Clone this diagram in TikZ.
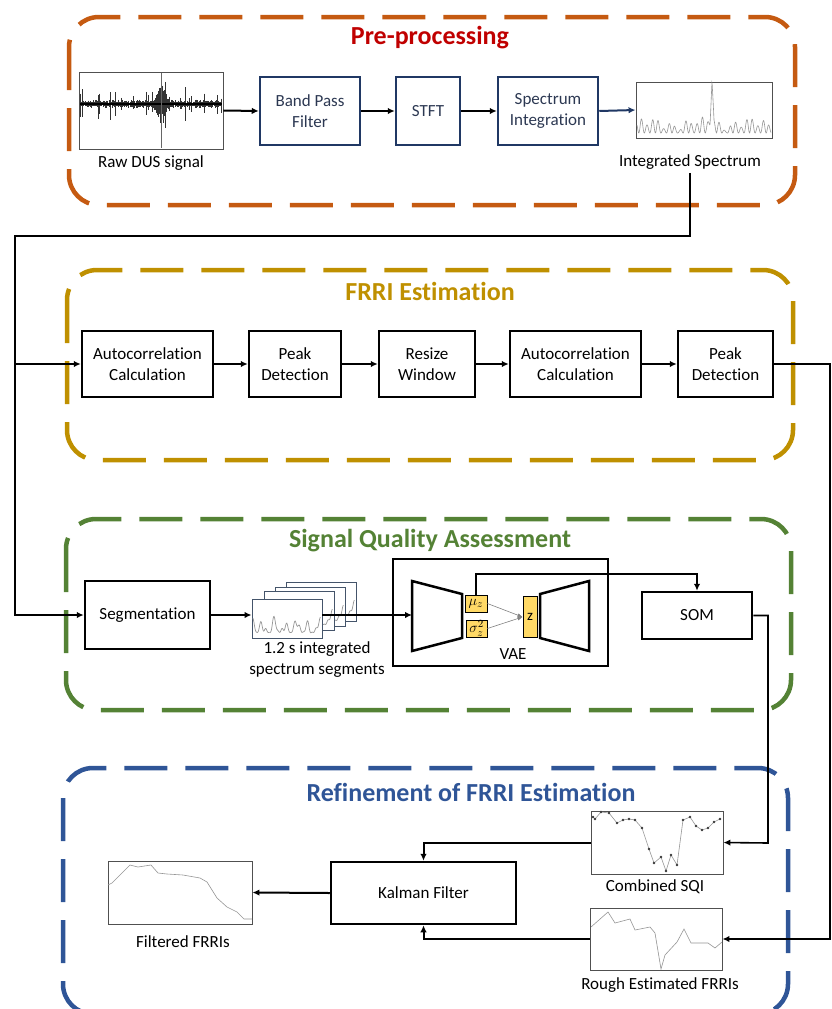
\documentclass[tikz,border=0pt]{standalone}
\usepackage{fontspec}
\setmainfont{Carlito}[Ligatures=NoCommon]
\usetikzlibrary{arrows.meta}
\definecolor{preorange}{RGB}{197,90,17}
\definecolor{prered}{RGB}{192,0,0}
\definecolor{frrigold}{RGB}{191,144,0}
\definecolor{sqagreen}{RGB}{84,130,53}
\definecolor{refblue}{RGB}{47,85,151}
\definecolor{boxnavy}{RGB}{32,56,100}
\definecolor{txtnavy}{RGB}{44,56,82}
\definecolor{latfill}{RGB}{255,217,102}
\definecolor{plotgray}{RGB}{150,150,150}
\definecolor{framegray}{RGB}{80,80,80}
\definecolor{segslate}{RGB}{68,84,106}
\tikzset{
  txt/.style={font=\fontsize{17}{21}\selectfont, align=center},
  blk/.style={txt, draw, line width=2.5pt, inner sep=0pt},
  nblk/.style={blk, draw=boxnavy, text=txtnavy},
  frame/.style={draw=framegray, line width=0.9pt, inner sep=0pt, fill=white},
  sframe/.style={draw=segslate, line width=0.9pt, inner sep=0pt, fill=white},
  lat/.style={draw, line width=0.8pt, fill=latfill, inner sep=0pt, font=\fontsize{15}{15}\selectfont},
  arr/.style={line width=2pt, -{Latex[length=7pt,width=6.5pt]}},
  group/.style={line width=4.5pt, dash pattern=on 43pt off 18pt, rounded corners=30pt},
  ttl/.style={font=\fontsize{26}{30}\selectfont\bfseries},
}
\begin{document}
\begin{tikzpicture}[x=1pt,y=-1pt]
  \useasboundingbox (0,0) rectangle (832,1009);
  \draw [group, preorange] (69,17) rectangle (795,205);
  \draw [group, frrigold] (67,270) rectangle (793,460);
  \draw [group, sqagreen] (66,519) rectangle (791,710);
  \draw [group, refblue] (63,768) rectangle (788,1014);
  \node [ttl, prered] (tpre) at (430,38) {Pre-processing};
  \node [ttl, frrigold] (tfrri) at (430,291) {FRRI Estimation};
  \node [ttl, sqagreen] (tsqa) at (430,541) {Signal Quality Assessment};
  \node [ttl, refblue] (tref) at (471,792) {Refinement of FRRI Estimation};

  \node [frame, minimum width=144pt, minimum height=77pt] (raw) at (151,110.5) {};
  \pgfmathsetseed{11}
  \foreach \x in {80,80.6,...,222} {
    \pgfmathsetmacro\amp{(1.5+2.5*rnd)*((rnd>0.88)?4:1)+16*max(0,1-abs(\x-161)/8)}
    \pgfmathsetmacro\up{min(28,\amp*(0.6+0.6*rnd))}
    \pgfmathsetmacro\dn{min(40,\amp*(0.6+0.6*rnd))}
    \draw [line width=0.45pt, black!80] (\x,{104-\up}) -- (\x,{104+\dn});
  }
  \draw [line width=1.4pt] (80,104) -- (222,104);
  \draw [line width=0.7pt, black!60] (161,73) -- (161,148);
  \node [txt] (lraw) at (151,163) {Raw DUS signal};
  \node [nblk, minimum width=100pt, minimum height=68pt] (bpf) at (310,111) {Band Pass\\Filter};
  \node [nblk, minimum width=64pt, minimum height=68pt] (stft) at (428,111) {STFT};
  \node [nblk, minimum width=100pt, minimum height=68pt] (spi) at (548,111) {Spectrum\\Integration};
  \node [frame, minimum width=136pt, minimum height=56pt] (spec) at (704,110) {};
  \draw [plotgray, line width=0.6pt] plot [domain=1:135, samples=500]
    ({\x+636}, {133-(9+4*sin(23*\x)+3*sin(7*\x))*(0.5+0.5*cos(65*\x))-40*max(0,1-abs(\x-76)/2)-10*max(0,1-abs(\x-75.5)/5)});
  \node [txt] (lspec) at (690,162) {Integrated Spectrum};
  \draw [arr] (raw.east) to (bpf.west);
  \draw [arr] (bpf) to (stft);
  \draw [arr] (stft) to (spi);
  \draw [arr, boxnavy] (spi.east) to (spec.west);

  \node [blk, minimum width=131pt, minimum height=66pt] (ac1) at (147.5,364) {Autocorrelation\\Calculation};
  \node [blk, minimum width=92pt, minimum height=66pt] (pk1) at (295,364) {Peak\\Detection};
  \node [blk, minimum width=96pt, minimum height=66pt] (rw) at (427,364) {Resize\\Window};
  \node [blk, minimum width=131pt, minimum height=66pt] (ac2) at (575.5,364) {Autocorrelation\\Calculation};
  \node [blk, minimum width=95pt, minimum height=66pt] (pk2) at (725.5,364) {Peak\\Detection};
  \draw [arr] (ac1) to (pk1);
  \draw [arr] (pk1) to (rw);
  \draw [arr] (rw) to (ac2);
  \draw [arr] (ac2) to (pk2);

  \node [blk, minimum width=125pt, minimum height=68pt] (seg) at (147.5,615) {Segmentation};
  \foreach \n/\cx/\cy in {4/321/601.5, 3/310/606.5, 2/299/610.5, 1/287/618.5} {
    \node [sframe, minimum width=70pt, minimum height=39pt] (seg\n) at (\cx,\cy) {};
    \draw [plotgray, line width=0.7pt, shift={(seg\n.south west)}] plot [domain=1:69, samples=140]
      (\x, {-6-(9+6*sin(53*\x)+4*sin(17*\x))*(0.5+0.5*cos(32*\x))});
  }
  \node [txt] (lsegs) at (317,660) {1.2 s integrated\\spectrum segments};
  \node [draw, line width=2.5pt, minimum width=215pt, minimum height=107pt] (vae) at (500.5,612.5) {};
  \node [txt] (lvae) at (513,654) {VAE};
  \draw [line width=2.5pt] (412,581) -- (462,594) -- (462,638) -- (412,651) -- cycle;
  \draw [line width=2.5pt] (540,594) -- (589,581) -- (589,651) -- (540,638) -- cycle;
  \node [lat, minimum width=22pt, minimum height=17pt] (mu) at (476,603.5) {$\mu_z$};
  \node [lat, minimum width=21pt, minimum height=17pt] (sig) at (476.5,628.5) {$\sigma_z^2$};
  \node [lat, minimum width=14pt, minimum height=41pt] (z) at (530,617) {$\mathrm{z}$};
  \draw [gray, line width=0.6pt, -{Latex[length=5pt,width=4pt]}] (mu.east) to (z.west);
  \draw [gray, line width=0.6pt, -{Latex[length=5pt,width=4pt]}] (sig.east) to (z.west);
  \node [blk, minimum width=110pt, minimum height=47pt] (som) at (697,615.5) {SOM};
  \coordinate (enc) at (412,615);
  \draw [arr] (seg.east) -- (seg.east -| seg1.west);
  \draw [arr] (seg.east -| seg1.east) -- (enc);

  \node [frame, minimum width=132pt, minimum height=63pt] (sqi) at (657,842.5) {};
  \draw [plotgray, line width=0.6pt, mark=*, mark size=0.9pt, mark options={fill=darkgray, draw=darkgray}] plot coordinates {
    (593,817) (595,819) (601,812) (609,813) (617,823) (623,820) (629,819) (635,820) (642,828)
    (649,849) (654,863) (661,857) (666,871) (671,855) (677,865) (683,820) (690,817) (696,826)
    (702,830) (708,828) (714,822) (720,819)};
  \node [txt] (lsqi) at (655,887) {Combined SQI};
  \node [frame, minimum width=132pt, minimum height=62pt] (rough) at (656,939) {};
  \draw [plotgray, line width=0.6pt] plot coordinates {
    (591,927) (608,912) (615,923) (630,919) (635,930) (650,927) (655,933) (661,969) (665,955)
    (677,942) (684,929) (691,943) (708,943) (715,948) (722,942)};
  \node [txt] (lrough) at (660,985) {Rough Estimated FRRIs};
  \node [blk, minimum width=185pt, minimum height=62pt] (kal) at (423.5,893) {Kalman Filter};
  \node [frame, minimum width=144pt, minimum height=63pt] (filt) at (180,892.5) {};
  \draw [plotgray, line width=0.6pt] plot coordinates {
    (108,885) (112,883) (130,865) (138,867) (151,865) (158,873) (167,874) (183,875) (200,878)
    (207,882) (217,898) (227,907) (237,912) (244,919) (252,919)};
  \node [txt] (lfilt) at (183,942) {Filtered FRRIs};

  \coordinate (c1) at (15,236);
  \coordinate (c2) at (830,364);
  \coordinate (c3) at (697,574);
  \coordinate (c4) at (768,843);
  \draw [arr] (lspec.south) |- (c1) |- (seg.west);
  \draw [arr] (c1 |- ac1.west) -- (ac1.west);
  \draw [arr] (pk2.east) -- (c2) |- (rough.east);
  \draw [arr, line width=1.6pt] (mu.north) |- (c3) -- (som.north);
  \draw [arr, line width=1.6pt] (som.east) -| (c4) -- (sqi.east);
  \draw [arr] (sqi.west) -| (kal.north);
  \draw [arr] (rough.west) -| (kal.south);
  \draw [arr] (kal.west) -- (filt.east);
\end{tikzpicture}
\end{document}
